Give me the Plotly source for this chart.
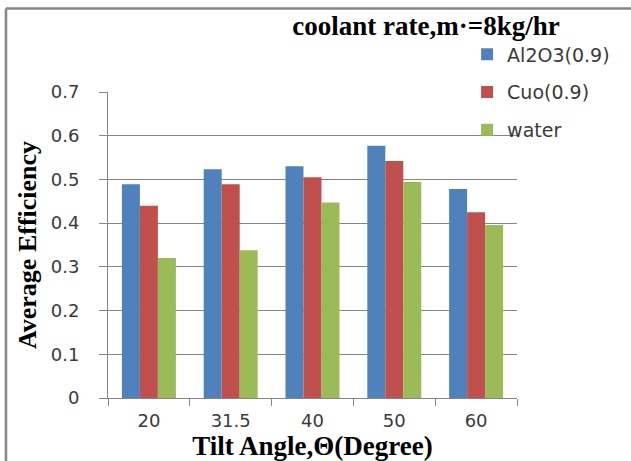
import plotly.graph_objects as go

categories = ["20", "31.5", "40", "50", "60"]
al2o3 = [0.489, 0.523, 0.530, 0.577, 0.478]
cuo = [0.440, 0.489, 0.505, 0.542, 0.425]
water = [0.320, 0.338, 0.447, 0.494, 0.396]
series_names = ["Al2O3(0.9)", "Cuo(0.9)", "water"]
colors = ["#4F81BD", "#C0504D", "#9BBB59"]

fig = go.Figure()
for name, vals, col in zip(series_names, [al2o3, cuo, water], colors):
    fig.add_trace(go.Bar(x=categories, y=vals, name=name, legendgroup=name,
                         marker=dict(color=col, line=dict(width=0))))

tick_font = dict(family="DejaVu Sans", size=18, color="#3a3a3a")
legend_font = dict(family="DejaVu Sans", size=19, color="#3a3a3a")
serif = "Liberation Serif"

fig.update_layout(
    width=631, height=461,
    margin=dict(l=108, r=114, t=92, b=63, autoexpand=False),
    paper_bgcolor="white", plot_bgcolor="white",
    barmode="group", bargap=0.34, bargroupgap=0,
    title=dict(text="<b>coolant rate,m·=8kg/hr</b>",
               font=dict(family=serif, size=27, color="black"),
               x=426/631, xref="container", xanchor="center",
               y=1 - 26/461, yref="container", yanchor="middle"),
    legend=dict(x=0.878, y=1.185, xanchor="left", yanchor="top",
                bgcolor="rgba(0,0,0,0)", font=legend_font,
                tracegroupgap=10, traceorder="grouped"),
    showlegend=True,
    xaxis=dict(
        type="category", showgrid=False, showline=True,
        linecolor="#868686", linewidth=1,
        ticks="outside", tickson="boundaries", ticklen=7, tickcolor="#868686",
        tickfont=tick_font, ticklabelstandoff=6,
        title=dict(text="<b>Tilt Angle,Θ(Degree)</b>",
                   font=dict(family=serif, size=27, color="black"), standoff=4),
    ),
    yaxis=dict(
        range=[0, 0.7], dtick=0.1, showgrid=True, gridcolor="#868686", gridwidth=1,
        showline=True, linecolor="#868686", linewidth=1,
        ticks="outside", ticklen=8, tickcolor="#868686",
        tickfont=tick_font, ticklabelstandoff=16, zeroline=False,
        title=dict(text="<b>Average Efficiency</b>",
                   font=dict(family=serif, size=26, color="black"), standoff=6),
    ),
    shapes=[
        dict(type="line", xref="paper", yref="paper",
             x0=(6 - 108) / 409, x1=1.4, y0=(398 - 8.5) / 306, y1=(398 - 8.5) / 306,
             line=dict(color="#878787", width=2.5)),
        dict(type="line", xref="paper", yref="paper",
             x0=(6 - 108) / 409, x1=(6 - 108) / 409, y0=(398 - 8.5) / 306, y1=-0.3,
             line=dict(color="#878787", width=2.5)),
    ],
)

fig.write_html("out.html")
